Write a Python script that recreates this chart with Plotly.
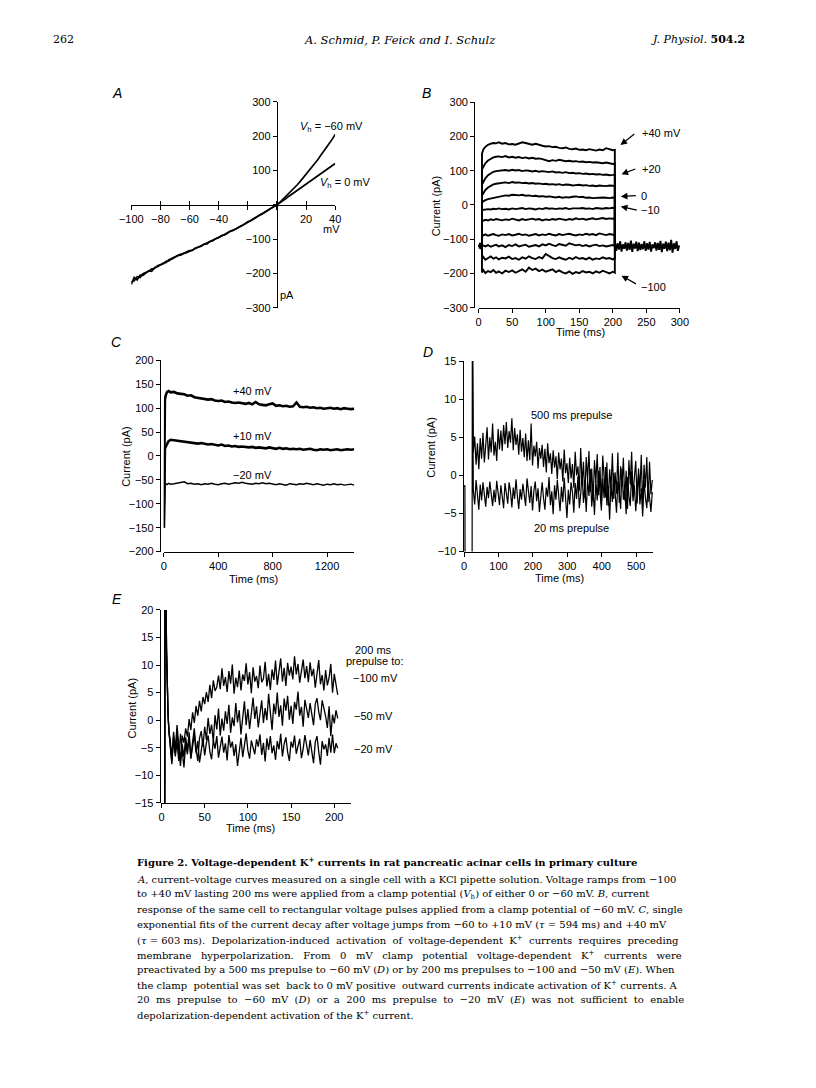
import plotly.graph_objects as go

# page is shown with the browser's default 8px body margin: keep the figure inside the 816x1088 window
OFF = 8
FW, FH = 816 - 2 * OFF, 1088 - 2 * OFF


def fx(p):
    return (p - OFF) / FW


def fy(p):
    return 1 - (p - OFF) / FH


# ---------------- Panel A : I-V ramps ----------------
a_mv = [-100, -98, -96, -94, -92, -90, -88, -86, -84, -82, -80, -78, -76, -74, -72, -70, -68, -66, -64, -62,
        -60, -58, -56, -54, -52, -50, -48, -46, -44, -42, -40, -38, -36, -34, -32, -30, -28, -26, -24, -22,
        -20, -18, -16, -14, -12, -10, -8, -6, -4, -2, 0, 2, 4, 6, 8, 10, 12, 14, 16, 18,
        20, 22, 24, 26, 28, 30, 32, 34, 36, 38, 40]
a_vh60 = [-232, -212, -219, -205, -206, -199, -192, -194, -183, -181,
          -176, -170, -168, -160, -158, -154, -148, -147, -141, -140,
          -136, -131, -128, -124, -119, -117, -112, -109, -103, -100,
          -95, -91, -87, -82, -79, -74, -70, -66, -60, -56,
          -51, -46, -41, -36, -30, -26, -20, -15, -10, -5,
          0,
          7, 15, 23, 31, 40, 49, 58, 68, 78, 88, 98, 109, 120, 131, 143, 154, 166, 179, 191, 205]
a_vh0 = [-225, -222, -210, -212, -201, -197, -194, -187, -186, -178,
         -174, -172, -165, -163, -156, -152, -150, -144, -143, -137,
         -134, -133, -126, -123, -121, -115, -114, -107, -105, -99,
         -96, -90, -88, -83, -77, -75, -69, -65, -61, -55,
         -50, -47, -41, -37, -31, -27, -21, -15, -11, -5,
         0,
         5, 12, 17, 24, 30, 35, 42, 47, 54, 60, 65, 72, 77, 84, 89, 96, 101, 108, 113, 120]
a_xticks = [-100, -80, -60, -40, -20, 0, 20, 40]
a_xtext = ["\u2212100", "\u221280", "\u221260", "\u221240", "", "", "20", "40"]
a_yticks = [-300, -200, -100, 0, 100, 200, 300]
a_ytext = ["\u2212300", "\u2212200", "\u2212100", "", "100", "200", "300"]

# ---------------- Panel B : step pulses ----------------
b_hold = -120
b_t = [5, 7, 10, 14, 18, 22, 26, 30, 35, 40, 45, 50, 55, 60, 65, 70, 75, 80, 85, 90, 95, 100,
       105, 110, 115, 120, 125, 130, 135, 140, 145, 150, 155, 160, 165, 170, 175, 180, 185, 190, 195, 200, 203]
b_p40 = [150, 162, 170, 176, 179, 181, 180, 183, 179, 181, 177, 178, 176, 180, 183, 181, 178, 176, 179, 175,
         173, 171, 172, 169, 170, 167, 166, 168, 164, 163, 165, 161, 162, 160, 163, 161, 159, 162, 160, 166,
         163, 160, 161]
b_p30 = [104, 112, 122, 130, 135, 139, 141, 142, 140, 143, 139, 141, 138, 140, 137, 139, 136, 138, 135, 136,
         134, 130, 128, 131, 129, 132, 130, 128, 129, 127, 128, 126, 127, 125, 126, 124, 125, 123, 122, 124,
         121, 120, 121]
b_p20 = [60, 68, 78, 87, 93, 97, 99, 100, 101, 102, 100, 103, 101, 102, 99, 101, 100, 98, 100, 97,
         99, 97, 96, 98, 95, 96, 94, 96, 93, 94, 92, 93, 91, 92, 90, 91, 89, 90, 88, 89,
         87, 88, 89]
b_p10 = [28, 35, 44, 51, 56, 60, 62, 63, 65, 66, 64, 67, 65, 66, 64, 65, 63, 64, 62, 63,
         61, 62, 60, 61, 59, 61, 58, 60, 59, 57, 58, 59, 57, 58, 56, 57, 55, 57, 56, 55,
         57, 55, 56]
b_0 = [8, 11, 14, 17, 19, 21, 23, 25, 26, 28, 27, 30, 29, 28, 30, 27, 28, 26, 27, 25,
       26, 24, 25, 23, 22, 24, 21, 23, 22, 24, 25, 23, 24, 21, 22, 20, 21, 20, 22, 21,
       20, 22, 21]
b_m10 = [-15, -14, -13, -12, -13, -11, -12, -10, -12, -11, -13, -10, -12, -11, -9, -12, -10, -11, -13, -10,
         -12, -9, -11, -10, -12, -10, -11, -9, -12, -10, -11, -10, -9, -11, -10, -12, -9, -10, -11, -9,
         -10, -8, -9]
b_m20 = [-44, -46, -43, -45, -42, -44, -41, -43, -45, -42, -44, -40, -43, -45, -41, -44, -42, -40, -43, -41,
         -45, -42, -44, -41, -43, -40, -42, -44, -41, -43, -39, -42, -40, -43, -41, -39, -42, -40, -38, -41,
         -39, -40, -39]
b_m40 = [-87, -89, -86, -90, -87, -85, -88, -90, -86, -88, -85, -89, -87, -84, -88, -86, -90, -87, -85, -89,
         -86, -88, -84, -87, -89, -85, -88, -86, -84, -87, -89, -86, -88, -84, -87, -85, -88, -83, -86, -88,
         -85, -87, -88]
b_m60 = [-120, -118, -121, -117, -122, -119, -116, -121, -118, -123, -117, -120, -115, -121, -118, -116, -122, -119, -117, -121,
         -115, -118, -113, -117, -120, -114, -116, -119, -112, -115, -118, -116, -120, -117, -121, -118, -116, -120, -118, -121,
         -119, -117, -120]
b_m80 = [-158, -152, -160, -155, -150, -157, -153, -159, -154, -156, -151, -158, -155, -160, -153, -157, -150, -155, -158, -152,
         -156, -143, -150, -155, -158, -153, -157, -160, -154, -158, -152, -157, -155, -159, -154, -160, -156, -158, -153, -157,
         -155, -159, -156]
b_m100 = [-197, -190, -199, -193, -196, -190, -198, -194, -200, -192, -196, -191, -198, -194, -188, -195, -183, -190, -186, -193,
          -189, -195, -192, -188, -196, -191, -197, -200, -194, -201, -196, -199, -193, -197, -195, -200, -194, -198, -192, -197,
          -200, -195, -198]
b_pre_t = [0, 1, 2, 3, 4, 5]
b_pre_v = [-113, -127, -111, -129, -115, -120]
b_tail_t = [203, 205, 207, 209, 211, 213, 215, 217, 219, 221, 223, 225, 227, 229, 231, 233, 235, 237, 239, 241,
            243, 245, 247, 249, 251, 253, 255, 257, 259, 261, 263, 265, 267, 269, 271, 273, 275, 277, 279, 281,
            283, 285, 287, 289, 291, 293, 295, 297, 299]
b_tail_v = [-108, -134, -112, -130, -106, -136, -115, -128, -109, -133, -111, -131, -104, -137, -113, -127, -107, -135, -110, -132,
            -114, -129, -106, -134, -112, -130, -108, -136, -115, -126, -109, -133, -111, -131, -105, -138, -113, -128, -107, -135,
            -110, -132, -102, -139, -112, -129, -106, -134, -118]

# ---------------- Panel C : long pulses ----------------
c_t = [0, 4, 8, 15, 25, 35, 50, 75, 100, 125, 150, 175, 200, 225, 250, 275, 300, 325, 350, 375,
       400, 425, 450, 475, 500, 525, 550, 575, 600, 625, 650, 675, 700, 725, 750, 775, 800, 825, 850, 875,
       900, 925, 950, 975, 1000, 1025, 1050, 1075, 1100, 1125, 1150, 1175, 1200, 1225, 1250, 1275, 1300, 1325, 1350, 1375,
       1400]
c_p40 = [-150, 90, 118, 128, 134, 136, 133, 134, 131, 130, 129, 126, 127, 123, 122, 121, 120, 118, 119, 116,
         115, 116, 113, 114, 112, 111, 112, 110, 109, 111, 108, 113, 108, 107, 106, 108, 110, 105, 106, 104,
         105, 103, 104, 112, 103, 102, 103, 101, 102, 100, 101, 99, 100, 101, 99, 100, 98, 100, 99, 98,
         99]
c_p10 = [-150, 5, 15, 20, 26, 31, 34, 33, 32, 31, 30, 29, 28, 28, 26, 27, 25, 24, 25, 23,
         22, 24, 21, 22, 20, 21, 19, 20, 19, 18, 19, 17, 18, 17, 16, 18, 16, 15, 17, 15,
         16, 14, 15, 14, 15, 13, 14, 15, 13, 12, 14, 13, 14, 12, 13, 14, 12, 13, 14, 13,
         14]
c_m20 = [-150, -70, -60, -58, -60, -57, -59, -58, -57, -56, -54, -58, -57, -59, -58, -60, -58, -59, -57, -59,
         -60, -58, -57, -59, -58, -56, -57, -55, -57, -58, -59, -57, -58, -56, -58, -57, -59, -60, -58, -59,
         -61, -58, -59, -60, -58, -59, -57, -59, -60, -58, -59, -61, -59, -60, -58, -60, -59, -61, -60, -59,
         -61]

# ---------------- Panel D : prepulse 500 vs 20 ms ----------------
d_pre_t = [0, 2.5, 3.0, 23.5, 24.0, 25.0]
d_pre_v = [-1.5, -1.3, -12, -12, 16, 16]
d_t = [27, 31, 35, 39, 43, 47, 51, 55, 59, 63, 67, 71, 75, 79, 83, 87, 91, 95, 99, 103,
       107, 111, 115, 119, 123, 127, 131, 135, 139, 143, 147, 151, 155, 159, 163, 167, 171, 175, 179, 183,
       187, 191, 195, 199, 203, 207, 211, 215, 219, 223, 227, 231, 235, 239, 243, 247, 251, 255, 259, 263,
       267, 271, 275, 279, 283, 287, 291, 295, 299, 303, 307, 311, 315, 319, 323, 327, 331, 335, 339, 343,
       347, 351, 355, 359, 363, 367, 371, 375, 379, 383, 387, 391, 395, 399, 403, 407, 411, 415, 419, 423,
       427, 431, 435, 439, 443, 447, 451, 455, 459, 463, 467, 471, 475, 479, 483, 487, 491, 495, 499, 503,
       507, 511, 515, 519, 523, 527, 531, 535, 539, 543, 547]
d_500 = [3.0, 5.1, 1.4, 4.2, 0.8, 4.9, 2.2, 5.6, 1.7, 3.9,
         6.3, 2.1, 5.0, 3.0, 6.8, 2.6, 4.4, 1.9, 6.1, 3.4,
         5.9, 3.2, 6.6, 4.1, 7.0, 3.6, 5.8, 4.3, 7.5, 3.3,
         6.2, 4.0, 5.4, 2.7, 6.0, 3.1, 4.9, 2.4, 5.5, 1.9,
         4.6, 2.0, 6.8, 1.3, 3.9, 2.5, 4.4, 0.9, 3.6, 2.2,
         4.0, 1.1, 3.5, 0.4, 4.2, 1.6, 2.9, 0.2, 3.3, 1.0,
         2.5, -0.5, 3.0, 0.8, 2.2, -0.8, 3.4, 0.3, 1.6, -1.0,
         2.3, -0.4, 1.5, -1.6, 3.1, 0.0, 1.2, -2.0, 3.6, -1.2,
         1.8, -3.0, 2.4, -0.6, 3.2, -2.2, 0.9, -3.4, 2.0, -0.9,
         2.8, -2.6, 1.1, -3.8, 2.6, -0.3, -2.9, 1.7, -4.0, 0.8,
         -1.8, 2.9, -3.1, 0.4, -2.4, 3.0, -3.6, 1.2, -1.5, 2.3,
         -3.3, 0.6, -4.4, 2.0, -1.2, 3.1, -2.8, -0.2, 1.9, -3.7,
         0.9, -2.1, 2.7, -4.2, 1.4, -1.6, 2.4, -3.5, 1.8, -2.5,
         -0.6]
d_20 = [-2.0, -3.8, -0.6, -2.9, -4.5, -1.2, -3.3, -0.9, -2.6, -4.1,
        -1.5, -3.0, -0.8, -2.4, -4.0, -1.9, -3.5, -0.7, -2.2, -3.9,
        -1.3, -2.8, -4.3, -1.0, -2.5, -3.7, -0.9, -2.1, -4.2, -1.6,
        -3.1, -0.5, -2.7, -4.4, -1.8, -3.2, -1.1, -2.6, -4.0, -0.4,
        -2.3, -3.6, -1.4, -4.6, -2.0, -0.8, -3.4, -1.7, -4.8, -2.2,
        -0.9, -3.0, -4.5, -1.6, -2.8, -0.2, -3.9, -2.1, -5.1, -1.3,
        -3.2, -0.6, -2.4, -4.7, -1.5, -3.5, -0.3, -2.9, -5.6, -1.9,
        -3.8, -0.9, -2.2, -4.9, -1.0, -3.1, -0.1, -4.3, -2.5, 0.4,
        -3.6, -1.2, -4.8, -0.5, -2.7, 0.8, -4.1, -1.8, -5.2, -0.7,
        -3.3, 0.6, -2.2, -4.6, -0.4, -3.0, 1.1, -3.9, -1.4, -5.8,
        -1.1, -3.5, 0.3, -2.8, -4.9, -0.8, -2.0, -4.4, 0.9, -3.2,
        -1.6, -5.1, -0.2, -2.7, -4.0, 0.5, -3.4, -1.3, -4.7, -2.1,
        0.2, -3.8, -1.7, -5.4, -0.6, -2.9, -4.3, -1.0, -3.6, -4.8,
        -2.2]

# ---------------- Panel E : 200 ms prepulses ----------------
e_pre_t = [0, 3.8, 4.0, 5.4, 5.8, 6.6, 7.6, 8.6]
e_pre_v = [-16, -16, 21, 21, 13, 6, 1, -2]
e_t = [10, 12, 14, 16, 18, 20, 22, 24, 26, 28, 30, 32, 34, 36, 38, 40, 42, 44, 46, 48,
       50, 52, 54, 56, 58, 60, 62, 64, 66, 68, 70, 72, 74, 76, 78, 80, 82, 84, 86, 88,
       90, 92, 94, 96, 98, 100, 102, 104, 106, 108, 110, 112, 114, 116, 118, 120, 122, 124, 126, 128,
       130, 132, 134, 136, 138, 140, 142, 144, 146, 148, 150, 152, 154, 156, 158, 160, 162, 164, 166, 168,
       170, 172, 174, 176, 178, 180, 182, 184, 186, 188, 190, 192, 194, 196, 198, 200, 202, 204]
e_m100 = [-3.5, -6.8, -2.1, -5.4, -0.9, -4.6, -7.2, -2.8, -4.1, -1.5,
          -3.0, 0.2, -1.8, 1.4, -0.5, 2.6, 0.8, 3.5, 1.6, 4.2,
          2.9, 5.1, 3.3, 6.4, 4.0, 7.2, 5.3, 6.0, 8.1, 5.6,
          9.4, 6.2, 7.8, 5.1, 8.9, 6.6, 10.1, 4.8, 7.7, 6.0,
          9.0, 5.4, 8.3, 7.1, 10.3, 6.5, 8.7, 4.9, 9.6, 7.0,
          8.0, 5.8, 9.9, 6.9, 7.5, 10.6, 6.1, 8.4, 5.5, 9.2,
          7.3, 10.8, 6.4, 8.8, 11.2, 7.0, 9.5, 6.2, 10.4, 8.1,
          9.7, 7.4, 11.6, 8.3, 10.2, 6.8, 9.1, 11.0, 7.6, 9.8,
          6.9, 10.5, 8.0, 9.3, 5.9, 8.7, 10.9, 6.5, 8.2, 5.4,
          9.1, 6.3, 7.7, 10.2, 5.0, 8.4, 6.1, 4.6]
e_m50 = [-4.2, -7.5, -3.0, -6.1, -2.4, -5.8, -8.3, -4.4, -6.7, -3.1,
         -5.6, -2.2, -6.9, -4.0, -1.5, -5.2, -7.4, -3.3, -2.0, -4.8,
         -1.2, -3.6, 0.4, -2.5, -0.8, -3.9, 0.9, -1.7, 2.1, -2.8,
         0.3, -1.9, 1.6, -0.7, 2.8, -2.3, 0.5, -1.1, 3.1, -0.4,
         1.8, -2.6, 0.9, 3.4, -0.9, 2.0, -1.6, 1.3, 4.1, 0.2,
         2.5, -1.3, 1.0, 3.6, -0.5, 2.2, 0.0, 4.8, 1.4, -1.8,
         3.0, 1.1, 5.0, 0.6, 2.7, -1.0, 3.9, 1.7, 4.4, 0.1,
         2.6, -0.7, 3.3, 1.9, 5.2, 0.8, 2.4, -1.2, 3.7, 2.0,
         0.4, 3.1, 1.2, -0.9, 2.9, 4.0, 1.5, 0.0, 3.6, 2.2,
         0.7, -1.4, 2.5, -2.9, 1.0, -0.6, 1.8, 0.3]
e_m20 = [-5.1, -8.0, -3.2, -6.6, -4.0, -7.4, -2.5, -5.9, -8.6, -4.3,
         -6.2, -3.1, -7.0, -4.8, -2.6, -6.0, -3.8, -7.7, -5.0, -3.4,
         -6.4, -4.1, -2.8, -5.7, -7.1, -3.6, -5.2, -2.9, -6.8, -4.5,
         -3.0, -5.9, -4.2, -7.3, -2.7, -5.0, -3.9, -6.5, -4.4, -8.3,
         -5.6, -3.2, -6.7, -4.0, -2.4, -5.5, -7.0, -3.7, -5.1, -6.2,
         -3.5, -4.8, -2.6, -6.3, -4.1, -7.5, -3.3, -5.4, -2.9, -6.0,
         -4.6, -7.2, -3.8, -5.3, -2.5, -6.6, -4.3, -3.1, -5.8, -7.4,
         -3.9, -5.0, -2.8, -6.1, -4.7, -3.4, -6.9, -5.2, -2.7, -4.9,
         -6.4, -3.6, -5.5, -7.8, -4.0, -2.9, -5.7, -8.1, -3.8, -5.3,
         -4.4, -6.5, -3.2, -5.9, -2.6, -6.0, -4.2, -5.1]

# ---------------- Figure ----------------
SANS = "Liberation Sans, Arial, Helvetica, sans-serif"
SERIF = "DejaVu Serif, serif"
BLK = "black"
fig = go.Figure()


def line(x, y, xa, ya, w=1.5):
    fig.add_trace(go.Scatter(x=x, y=y, xaxis=xa, yaxis=ya, mode="lines",
                             line=dict(color=BLK, width=w), showlegend=False, hoverinfo="skip"))


# A
line(a_mv, a_vh0, "x", "y", 1.7)
line(a_mv, a_vh60, "x", "y", 1.7)
fig.add_trace(go.Scatter(x=[0], y=[0], xaxis="x6", yaxis="y", mode="markers",
                         marker=dict(opacity=0), showlegend=False, hoverinfo="skip"))
# B
line(b_pre_t, b_pre_v, "x2", "y2", 2.0)
for vals in [b_p40, b_p30, b_p20, b_p10, b_0, b_m10, b_m20, b_m40, b_m60, b_m80, b_m100]:
    line([0, 5] + b_t + [203], [b_hold, b_hold] + vals + [b_hold], "x2", "y2", 1.9)
line(b_tail_t, b_tail_v, "x2", "y2", 1.9)
# C
line(c_t, c_m20, "x3", "y3", 1.4)
line(c_t, c_p10, "x3", "y3", 2.6)
line(c_t, c_p40, "x3", "y3", 2.6)
# D
line(d_pre_t + d_t, d_pre_v + d_20, "x4", "y4", 1.2)
line([25.0] + d_t, [16] + d_500, "x4", "y4", 1.2)
# E
for vals in [e_m20, e_m50, e_m100]:
    line(e_pre_t + e_t, e_pre_v + vals, "x5", "y5", 1.3)

tickfont = dict(family=SANS, size=11, color=BLK)
common = dict(showgrid=False, zeroline=False, showline=True, linecolor=BLK, linewidth=1.3,
              ticks="outside", ticklen=4, tickwidth=1.3, tickcolor=BLK, tickfont=tickfont)

fig.update_layout(
    width=FW, height=FH, autosize=False,
    margin=dict(l=0, r=0, t=0, b=0),
    paper_bgcolor="white", plot_bgcolor="white",
    showlegend=False,
    # A
    xaxis=dict(domain=[fx(122.3), fx(331.7)], range=[-100, 40], anchor="free", position=fy(200.9),
               tickvals=a_xticks, ticktext=a_xtext, **common),
    xaxis6=dict(domain=[fx(122.3), fx(331.7)], range=[-100, 40], anchor="free", position=fy(200.9),
                overlaying="x", tickvals=a_xticks, showticklabels=False, showline=False, showgrid=False,
                zeroline=False, ticks="inside", ticklen=4, tickwidth=1.3, tickcolor=BLK),
    yaxis=dict(domain=[fy(305), fy(96.7)], range=[-300, 300], anchor="free", position=fx(271.9),
               tickvals=a_yticks, ticktext=a_ytext, **common),
    # B
    xaxis2=dict(domain=[fx(479), fx(685.7)], range=[0, 300], anchor="y2",
                tickvals=[0, 50, 100, 150, 200, 250, 300], **common),
    yaxis2=dict(domain=[fy(305), fy(97.3)], range=[-300, 300], anchor="free", position=fx(474.5),
                tickvals=[-300, -200, -100, 0, 100, 200, 300], **common),
    # C
    xaxis3=dict(domain=[fx(155.7), fx(351.3)], range=[0, 1400], anchor="y3",
                tickvals=[0, 400, 800, 1200], **common),
    yaxis3=dict(domain=[fy(551.7), fy(358.3)], range=[-200, 200], anchor="free", position=fx(151.7),
                tickvals=[-200, -150, -100, -50, 0, 50, 100, 150, 200], **common),
    # D
    xaxis4=dict(domain=[fx(464), fx(658.4)], range=[0, 550], anchor="y4",
                tickvals=[0, 100, 200, 300, 400, 500], **common),
    yaxis4=dict(domain=[fy(551.7), fy(359)], range=[-10, 15], anchor="free", position=fx(462.8),
                tickvals=[-10, -5, 0, 5, 10, 15], **common),
    # E
    xaxis5=dict(domain=[fx(153.3), fx(347.6)], range=[0, 219], anchor="y5",
                tickvals=[0, 50, 100, 150, 200], **common),
    yaxis5=dict(domain=[fy(805.7), fy(610.7)], range=[-15, 20], anchor="free", position=fx(151.5),
                tickvals=[-15, -10, -5, 0, 5, 10, 15, 20], **common),
)

anns = []


def txt(text, x, y, size=11, family=SANS, xanchor="center", angle=0):
    anns.append(dict(text=text, x=fx(x), y=fy(y), xref="paper", yref="paper", showarrow=False,
                     xanchor=xanchor, yanchor="middle", textangle=angle,
                     font=dict(family=family, size=size, color=BLK)))


def arrow(hx, hy, tx, ty):
    anns.append(dict(text="", x=fx(hx), y=fy(hy), xref="paper", yref="paper",
                     ax=tx - hx, ay=ty - hy, axref="pixel", ayref="pixel",
                     showarrow=True, arrowhead=2, arrowsize=1.1, arrowwidth=1.2, arrowcolor=BLK))


# panel letters
for lab, x, y in [("A", 108, 88), ("B", 425, 88), ("C", 107, 340), ("D", 427, 350), ("E", 108, 600)]:
    txt("<i>%s</i>" % lab, x, y, size=14)

# A labels
txt("<i>V</i><sub>h</sub> = \u221260 mV", 328, 122)
txt("<i>V</i><sub>h</sub> = 0 mV", 341.5, 178.5)
txt("mV", 328.3, 225.7)
txt("pA", 281.7, 292.3)

# B labels
txt("Current (pA)", 435, 201.7, angle=-90)
txt("Time (ms)", 583.3, 329.5)
txt("+40 mV", 645, 128.3, xanchor="left")
txt("+20", 645, 165, xanchor="left")
txt("0", 643.5, 191.7, xanchor="left")
txt("\u221210", 644, 206.5, xanchor="left")
txt("\u2212100", 644, 284, xanchor="left")
arrow(624.7, 140.5, 640, 128.3)
arrow(625.7, 170, 641, 164.3)
arrow(625, 192.5, 641.5, 191.7)
arrow(625, 202.7, 642.5, 206.7)
arrow(625.7, 272.7, 641.7, 281.7)

# C labels
txt("Current (pA)", 116.7, 455, angle=-90)
txt("Time (ms)", 248.3, 579)
txt("+40 mV", 246.7, 389.3)
txt("+10 mV", 246.7, 435)
txt("\u221220 mV", 246.7, 474.3)

# D labels
txt("Current (pA)", 430, 445.7, angle=-90)
txt("Time (ms)", 562.3, 578.5)
txt("500 ms prepulse", 574, 413.3)
txt("20 ms prepulse", 574.5, 528.3)

# E labels
txt("Current (pA)", 123.3, 710, angle=-90)
txt("Time (ms)", 245, 831)
txt("200 ms", 371.5, 651)
txt("prepulse to:", 372.5, 662.5)
txt("\u2212100 mV", 348, 679.3, xanchor="left")
txt("\u221250 mV", 349, 717.7, xanchor="left")
txt("\u221220 mV", 349, 751, xanchor="left")

# header
txt("262", 52.5, 34, size=11, family=SERIF)
txt("<i>A. Schmid, P. Feick and I. Schulz</i>", 398.5, 34, size=11.5, family=SERIF)
txt("<i>J. Physiol.</i> <b>504.2</b>", 755, 34, size=11, family=SERIF, xanchor="right")

# caption (extra non-breaking spaces imitate the justified lines of the original)
NB = "\u00a0"
SP2 = " " + NB
SP3 = " " + NB + NB
cap_title = "<b>Figure 2. Voltage-dependent K<sup>+</sup> currents in rat pancreatic acinar cells in primary culture</b>"
cap_lines = [
    "<i>A</i>, current\u2013voltage curves measured on a single cell with a KCl pipette solution. Voltage ramps from \u2212100",
    "to +40 mV lasting 200 ms were applied from a clamp potential (<i>V</i><sub>h</sub>) of either 0 or \u221260 mV. <i>B</i>, current",
    "response of the same cell to rectangular voltage pulses applied from a clamp potential of \u221260 mV. <i>C</i>, single",
    "exponential fits of the current decay after voltage jumps from \u221260 to +10 mV (<i>\u03c4</i> = 594 ms) and +40 mV",
    "(<i>\u03c4</i> = 603 ms)." + SP2 + "Depolarization-induced" + SP2 + "activation" + SP2 + "of" + SP2
    + "voltage-dependent" + SP2 + "K<sup>+</sup>" + SP2 + "currents" + SP2 + "requires" + SP2 + "preceding",
    SP3.join("membrane hyperpolarization. From 0 mV clamp potential voltage-dependent K<sup>+</sup> currents were".split(" ")),
    "preactivated by a 500 ms prepulse to \u221260 mV (<i>D</i>) or by 200 ms prepulses to \u2212100 and \u221250 mV (<i>E</i>). When",
    "the clamp" + SP2 + "potential was set" + SP2 + "back to 0 mV positive" + SP2
    + "outward currents indicate activation of K<sup>+</sup> currents. A",
    SP2.join("20 ms prepulse to \u221260 mV (<i>D</i>) or a 200 ms prepulse to \u221220 mV (<i>E</i>) was not sufficient to enable".split(" ")),
    "depolarization-dependent activation of the K<sup>+</sup> current.",
]
txt(cap_title, 126.5, 865, size=10, family=SERIF, xanchor="left")
for i, s in enumerate(cap_lines):
    txt(s, 126.5, 883.3 + 15.22 * i, size=10, family=SERIF, xanchor="left")

fig.update_layout(annotations=anns)
fig.write_html("out.html")
